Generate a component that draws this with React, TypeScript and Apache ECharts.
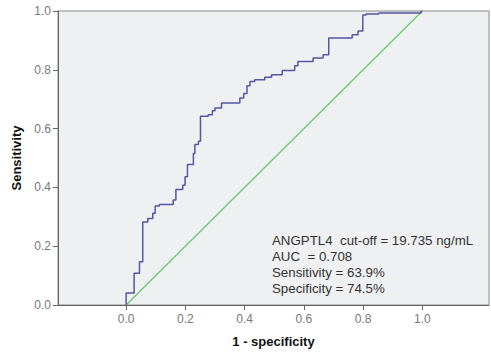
import React, { useEffect, useRef } from "react";
import * as echarts from "echarts";

// ROC curve corner points (1 - specificity, sensitivity); step goes up then right
const fpr = [0.0, 0.027, 0.045, 0.056, 0.073, 0.09, 0.098, 0.112, 0.159, 0.168, 0.191, 0.199, 0.207, 0.227, 0.232, 0.244, 0.251, 0.277, 0.291, 0.3, 0.322, 0.384, 0.397, 0.408, 0.418, 0.434, 0.468, 0.491, 0.527, 0.569, 0.58, 0.631, 0.665, 0.684, 0.763, 0.783, 0.799, 0.81, 0.853, 0.996, 1.0];
const tpr = [0.0, 0.041, 0.108, 0.147, 0.282, 0.294, 0.312, 0.337, 0.342, 0.357, 0.393, 0.407, 0.436, 0.478, 0.515, 0.546, 0.557, 0.642, 0.647, 0.661, 0.67, 0.687, 0.704, 0.719, 0.746, 0.76, 0.766, 0.775, 0.783, 0.798, 0.814, 0.828, 0.84, 0.851, 0.908, 0.919, 0.932, 0.986, 0.99, 0.993, 1.0];

const refX = [0, 1];
const refY = [0, 1];

const xTicks = [0, 0.2, 0.4, 0.6, 0.8, 1.0];

const annotationLines = [
  "ANGPTL4  cut-off = 19.735 ng/mL",
  "AUC  = 0.708",
  "Sensitivity = 63.9%",
  "Specificity = 74.5%",
];

export default function App() {
  const ref = useRef<HTMLDivElement>(null);
  useEffect(() => {
    if (!ref.current) return;
    const chart = echarts.init(ref.current, undefined, { renderer: "svg" });
    const font = "Liberation Sans, Arial, sans-serif";
    chart.setOption({
      animation: false,
      grid: {
        left: 58,
        right: 2,
        top: 11,
        bottom: 47,
        show: true,
        backgroundColor: "#eff0f2",
        borderColor: "#8a8a8a",
        borderWidth: 1,
      },
      xAxis: {
        type: "value",
        min: -0.23,
        max: 1.225,
        name: "1 - specificity",
        nameLocation: "middle",
        nameGap: 30,
        nameTextStyle: { fontFamily: font, fontSize: 13, fontWeight: "bold", color: "#111" },
        axisLine: { show: true, onZero: false, lineStyle: { color: "#666", width: 1 } },
        axisTick: { show: true, customValues: xTicks, length: 5, lineStyle: { color: "#666" } },
        axisLabel: {
          customValues: xTicks,
          formatter: (v: number) => v.toFixed(1),
          fontFamily: font,
          fontSize: 12,
          color: "#777",
          margin: 8,
        },
        splitLine: { show: false },
      },
      yAxis: {
        type: "value",
        min: 0,
        max: 1,
        interval: 0.2,
        name: "Sensitivity",
        nameLocation: "middle",
        nameGap: 34,
        nameTextStyle: { fontFamily: font, fontSize: 13, fontWeight: "bold", color: "#111" },
        axisLine: { show: true, onZero: false, lineStyle: { color: "#666", width: 1 } },
        axisTick: { show: true, length: 5, lineStyle: { color: "#666" } },
        axisLabel: {
          formatter: (v: number) => v.toFixed(1),
          fontFamily: font,
          fontSize: 12,
          color: "#777",
          margin: 7,
        },
        splitLine: { show: false },
      },
      series: [
        {
          type: "line",
          data: refX.map((x, i) => [x, refY[i]]),
          showSymbol: false,
          lineStyle: { color: "#6cc86c", width: 1.3 },
          z: 2,
        },
        {
          type: "line",
          step: "start",
          data: fpr.map((x, i) => [x, tpr[i]]),
          showSymbol: false,
          lineStyle: { color: "#5656a3", width: 1.5 },
          z: 3,
        },
      ],
      graphic: annotationLines.map((t, i) => ({
        type: "text",
        left: 272,
        top: 234 + i * 16,
        style: { text: t, fontFamily: font, fontSize: 13.3, fill: "#333" },
      })),
    });
    return () => chart.dispose();
  }, []);
  return <div ref={ref} style={{ width: 491, height: 353, position: "absolute", left: 0, top: 0 }} />;
}
